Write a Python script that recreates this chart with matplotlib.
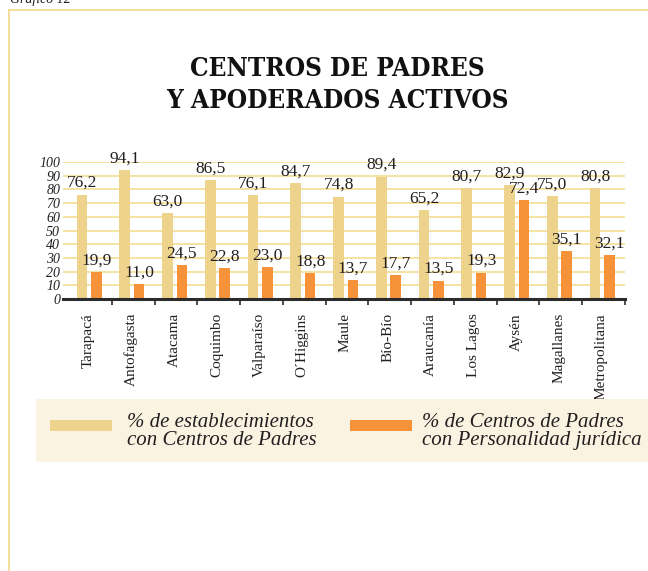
import matplotlib
matplotlib.use('Agg')
import matplotlib.pyplot as plt
from matplotlib import font_manager as fm
from matplotlib.patches import Rectangle
from matplotlib.lines import Line2D
import numpy as np

regiones = ['Tarapacá', 'Antofagasta', 'Atacama', 'Coquimbo', 'Valparaíso', 'O´Higgins',
            'Maule', 'Bío-Bío', 'Araucanía', 'Los Lagos', 'Aysén', 'Magallanes', 'Metropolitana']
con_centros = [76.2, 94.1, 63.0, 86.5, 76.1, 84.7, 74.8, 89.4, 65.2, 80.7, 82.9, 75.0, 80.8]
personalidad = [19.9, 11.0, 24.5, 22.8, 23.0, 18.8, 13.7, 17.7, 13.5, 19.3, 72.4, 35.1, 32.1]
yticks = [0, 10, 20, 30, 40, 50, 60, 70, 80, 90, 100]

leyenda_1 = ['% de establecimientos', 'con Centros de Padres']
leyenda_2 = ['% de Centros de Padres', 'con Personalidad jurídica']
titulo = ['CENTROS DE PADRES', 'Y APODERADOS ACTIVOS']

ORO = '#EDD38B'
NARANJA = '#F5923A'
GRID = '#F6E2A0'
MARCO = '#F3D98C'
TXT = '#231F20'

W, H = 648, 571


def fx(px):
    return px / W


def fy(py):
    return 1 - py / H


def fmt(v):
    return ('%.1f' % v).replace('.', ',')


# fuente estrecha para el titulo si existe
condensada = [f for f in fm.fontManager.ttflist
              if f.stretch == 'condensed' and f.weight in (700, 'bold')]
serif_cond = [f for f in condensada if 'Serif' in f.name]
if serif_cond:
    tfam, tstretch = serif_cond[0].name, 'condensed'
elif condensada:
    tfam, tstretch = condensada[0].name, 'condensed'
else:
    tfam, tstretch = 'Liberation Serif', 'normal'

fig = plt.figure(figsize=(6.48, 5.71), dpi=100)
fig.patch.set_facecolor('white')

# marco
fig.add_artist(Line2D([fx(9), fx(9)], [fy(10), 0], color=MARCO, lw=1.2))
fig.add_artist(Line2D([fx(9), 1], [fy(10), fy(10)], color=MARCO, lw=1.2))
fig.text(fx(10), fy(3), 'Gráfico 12', fontsize=10, style='italic',
         family='Liberation Serif', color=TXT, ha='left', va='baseline')

# titulo
tt = []
for s, base in zip(titulo, [76, 108]):
    tt.append(fig.text(fx(337), fy(base), s, ha='center', va='baseline', fontsize=20,
                       fontweight='bold', family=tfam, fontstretch=tstretch, color='#111111'))
r = fig.canvas.get_renderer()
ancho = tt[1].get_window_extent(r).width
for t in tt:
    t.set_fontsize(20 * 342 / ancho)

ax = fig.add_axes([fx(63), fy(299), (625 - 63) / W, 137 / H])
x = np.arange(len(regiones))
w = 0.25
b1 = ax.bar(x - 0.2, con_centros, w, color=ORO, zorder=3)
b2 = ax.bar(x + 0.135, personalidad, w, color=NARANJA, zorder=3)

for bars, vals in [(b1, con_centros), (b2, personalidad)]:
    for rr, v in zip(bars, vals):
        ax.annotate(fmt(v), (rr.get_x() + rr.get_width() / 2, v), xytext=(0, 2.5),
                    textcoords='offset points', ha='center', va='bottom',
                    fontsize=12.5, family='Liberation Serif', color=TXT, zorder=5,
                    annotation_clip=False)

ax.set_xlim(-0.646, 12.5)
ax.set_ylim(0, 100)
ax.set_yticks(yticks)
ax.set_yticklabels([str(t) for t in yticks], fontsize=10, style='italic',
                   family='Liberation Serif', color=TXT)
ax.tick_params(axis='y', length=0, pad=2)
for t in yticks[1:]:
    ax.axhline(t, color=GRID, lw=1.4, zorder=1)

ax.set_xticks(np.arange(len(regiones)) + 0.5)
ax.set_xticklabels([])
ax.tick_params(axis='x', which='major', direction='out', length=4.5, width=1.2, color='#2B2B2B')
ax.set_xticks(x - 0.05, minor=True)
ax.set_xticklabels(regiones, minor=True, rotation=90, fontsize=11,
                   family='Liberation Serif', color=TXT, va='top', ha='center')
ax.tick_params(axis='x', which='minor', length=0, pad=10)

for s in ['top', 'right', 'left']:
    ax.spines[s].set_visible(False)
ax.spines['bottom'].set_color('#2B2B2B')
ax.spines['bottom'].set_linewidth(2.2)
ax.spines['bottom'].set_zorder(6)
ax.set_facecolor('none')

# leyenda
fig.add_artist(Rectangle((fx(36), fy(462)), 1 - fx(36), (462 - 399) / H,
                         transform=fig.transFigure, color='#FAF3E2', lw=0))
fig.add_artist(Rectangle((fx(50), fy(431)), 62 / W, 11 / H,
                         transform=fig.transFigure, color=ORO, lw=0))
fig.add_artist(Rectangle((fx(350), fy(431)), 62 / W, 11 / H,
                         transform=fig.transFigure, color=NARANJA, lw=0))
for lx, lineas in [(127, leyenda_1), (422, leyenda_2)]:
    fig.text(fx(lx), fy(445), '\n'.join(lineas), ha='left', va='baseline', fontsize=15,
             style='italic', family='Liberation Serif', color=TXT, linespacing=0.9)

fig.savefig('out.png', dpi=100)
